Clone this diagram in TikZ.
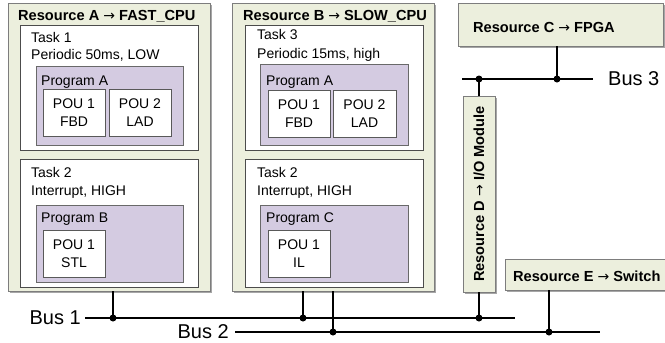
\documentclass[tikz,border=0pt]{standalone}
\usepackage{fontspec}
\setmainfont{Liberation Sans}
\newfontfamily\arrowfont{DejaVu Sans}
\newcommand{\rarr}{{\arrowfont\mdseries\fontsize{14}{18}\selectfont →}}
\usetikzlibrary{shadows}
\definecolor{resfill}{RGB}{236,239,221}
\definecolor{resdraw}{RGB}{125,125,125}
\definecolor{progfill}{RGB}{212,203,225}
\definecolor{progdraw}{RGB}{105,105,105}
\newcommand{\regf}{\fontsize{14}{18}\selectfont}
\newcommand{\boldf}{\fontsize{14.6}{18}\selectfont\bfseries}
\tikzset{
  box/.style={anchor=north west, inner sep=0pt, outer sep=0pt},
  res/.style={box, fill=resfill, draw=resdraw, line width=1pt,
    drop shadow={shadow xshift=1.5pt, shadow yshift=-1.5pt, fill=black, opacity=0.35}},
  taskbox/.style={box, fill=white, draw=black!70, line width=0.8pt},
  prog/.style={box, fill=progfill, draw=progdraw, line width=1pt,
    drop shadow={shadow xshift=1pt, shadow yshift=-1pt, fill=black, opacity=0.25}},
  pou/.style={box, fill=white, draw=black!65, line width=0.8pt, align=center, font=\regf},
  lbl/.style={anchor=base west, inner sep=0pt, font=\regf},
  ttl/.style={anchor=base west, inner sep=0pt, font=\boldf},
  buslbl/.style={inner sep=0pt, font=\fontsize{20}{24}\selectfont},
  wire/.style={line width=2pt},
  dot/.style={circle, fill=black, inner sep=0pt, minimum size=7pt},
}
\begin{document}
\begin{tikzpicture}[x=1pt, y=-1pt]
\useasboundingbox (0,0) rectangle (665,343);

% ---------- Resource A ----------
\node[res, minimum width=202pt, minimum height=288pt] (resA) at (8,3) {};
\node[ttl] (resAt) at (18,20) {Resource A \rarr{} FAST\_CPU};
\node[taskbox, minimum width=178pt, minimum height=125pt] (taskA1) at (20,25) {};
\node[lbl] (taskA1a) at (31,42) {Task 1};
\node[lbl] (taskA1b) at (31,59) {Periodic 50ms, LOW};
\node[prog, minimum width=147pt, minimum height=79pt] (progAA) at (36,66) {};
\node[lbl] (progAAt) at (41,85) {Program A};
\node[pou, minimum width=62pt, minimum height=47pt] (pouA1) at (43,89) {POU 1\\FBD};
\node[pou, minimum width=62pt, minimum height=47pt] (pouA2) at (109,89) {POU 2\\LAD};
\node[taskbox, minimum width=178pt, minimum height=128pt] (taskA2) at (20,159) {};
\node[lbl] (taskA2a) at (31,177) {Task 2};
\node[lbl] (taskA2b) at (31,195) {Interrupt, HIGH};
\node[prog, minimum width=147pt, minimum height=77pt] (progAB) at (36,205) {};
\node[lbl] (progABt) at (41,222) {Program B};
\node[pou, minimum width=62pt, minimum height=47pt] (pouA3) at (43,230) {POU 1\\STL};

% ---------- Resource B ----------
\node[res, minimum width=202pt, minimum height=288pt] (resB) at (232,3) {};
\node[ttl] (resBt) at (243,20) {Resource B \rarr{} SLOW\_CPU};
\node[taskbox, minimum width=178pt, minimum height=125pt] (taskB1) at (245,25) {};
\node[lbl] (taskB1a) at (257,39) {Task 3};
\node[lbl] (taskB1b) at (257,58) {Periodic 15ms, high};
\node[prog, minimum width=148pt, minimum height=81pt] (progBA) at (260,64) {};
\node[lbl] (progBAt) at (266,85) {Program A};
\node[pou, minimum width=62pt, minimum height=47pt] (pouB1) at (268,90) {POU 1\\FBD};
\node[pou, minimum width=63pt, minimum height=47pt] (pouB2) at (333,90) {POU 2\\LAD};
\node[taskbox, minimum width=178pt, minimum height=128pt] (taskB2) at (245,159) {};
\node[lbl] (taskB2a) at (257,177) {Task 2};
\node[lbl] (taskB2b) at (257,195) {Interrupt, HIGH};
\node[prog, minimum width=148pt, minimum height=77pt] (progBC) at (260,205) {};
\node[lbl] (progBCt) at (266,222) {Program C};
\node[pou, minimum width=62pt, minimum height=47pt] (pouB3) at (268,230) {POU 1\\IL};

% ---------- Resources C, D, E ----------
\node[res, minimum width=205pt, minimum height=43pt] (resC) at (458,3) {};
\node[ttl] (resCt) at (473,32) {Resource C \rarr{} FPGA};
\node[res, minimum width=196pt, minimum height=32pt, anchor=center, rotate=90,
      font=\boldf] (resD) at (479,194) {Resource D \rarr{} I/O Module};
\node[res, minimum width=162pt, minimum height=31pt] (resE) at (505,259) {};
\node[ttl] (resEt) at (513,281) {Resource E \rarr{} Switch};

% ---------- Buses ----------
\coordinate (b1s) at (85,318);
\coordinate (b1e) at (515,318);
\coordinate (b2s) at (235,332);
\coordinate (b2e) at (600,332);
\coordinate (b3s) at (462,79);
\coordinate (b3e) at (593,79);
\node[buslbl, anchor=east] (bus1) at ([xshift=-4pt]b1s) {Bus 1};
\node[buslbl, anchor=east] (bus2) at ([xshift=-6pt]b2s) {Bus 2};
\node[buslbl, anchor=west] (bus3) at ([xshift=15pt]b3e) {Bus 3};
\draw[wire] (b1s) -- (b1e);
\draw[wire] (b2s) -- (b2e);
\draw[wire] (b3s) -- (b3e);

% junctions
\node[dot] (d1a) at (113,318) {};
\node[dot] (d1b) at (303,318) {};
\node[dot] (d2b) at (333,332) {};
\node[dot] (d1d) at (479,318) {};
\node[dot] (d2e) at (549,332) {};
\node[dot] (d3d) at (479,79) {};
\node[dot] (d3c) at (557,79) {};

% connectors
\draw[wire] (resA.south -| d1a) -- (d1a.center);
\draw[wire] (resB.south -| d1b) -- (d1b.center);
\draw[wire] (resB.south -| d2b) -- (d2b.center);
\draw[wire] (resD.west) -- (d1d.center);
\draw[wire] (resD.east) -- (d3d.center);
\draw[wire] (resE.south -| d2e) -- (d2e.center);
\draw[wire] (resC.south -| d3c) -- (d3c.center);
\end{tikzpicture}
\end{document}
